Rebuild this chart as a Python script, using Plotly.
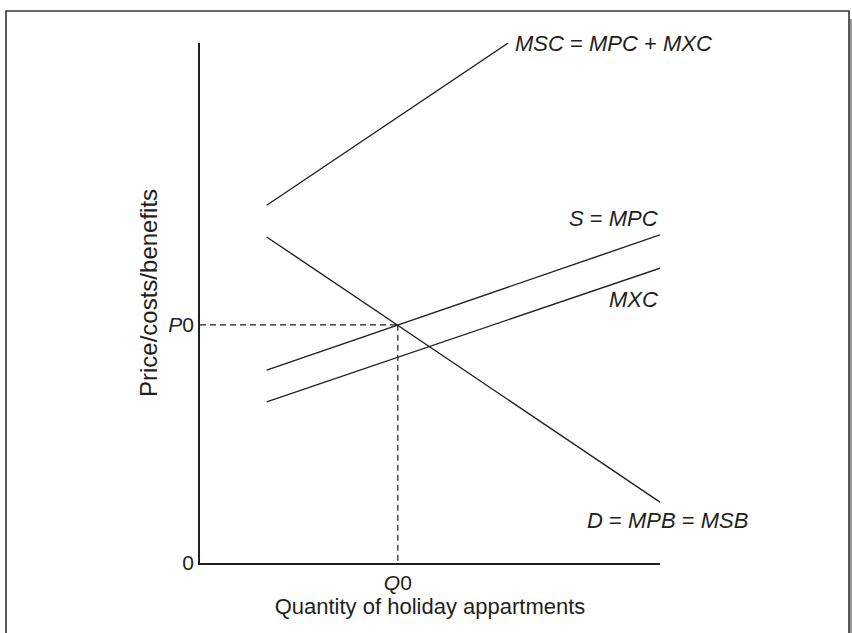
import plotly.graph_objects as go

# ---- data ----
curve_x = [1.45, 10.0]           # start / end of S, MXC and D curves
msc_x = [1.45, 6.7]
msc_y = [6.88, 10.0]             # MSC = MPC + MXC
s_mpc_y = [3.71, 6.31]           # S = MPC
mxc_y = [3.10, 5.67]             # MXC
demand_y = [6.27, 1.17]          # D = MPB = MSB
q0 = 4.3
p0 = 4.58

y_tick_vals = [0, p0]
y_tick_text = ["0", "<i>P</i>0"]
x_tick_vals = [q0]
x_tick_text = ["<i>Q</i>0"]

labels = [
    # text, x, y, xanchor
    ("<i>MSC</i> = <i>MPC</i> + <i>MXC</i>", 6.80, 10.0, "left"),
    ("<i>S</i> = <i>MPC</i>", 10.0, 6.63, "right"),
    ("<i>MXC</i>", 10.0, 5.07, "right"),
    ("<i>D</i> = <i>MPB</i> = <i>MSB</i>", 8.37, 0.81, "left"),
]

INK = "#231f20"
FONT = "Liberation Sans"

fig = go.Figure()
line = dict(color=INK, width=1.4)
fig.add_trace(go.Scatter(x=msc_x, y=msc_y, mode="lines", line=line, hoverinfo="skip"))
fig.add_trace(go.Scatter(x=curve_x, y=s_mpc_y, mode="lines", line=line, hoverinfo="skip"))
fig.add_trace(go.Scatter(x=curve_x, y=mxc_y, mode="lines", line=line, hoverinfo="skip"))
fig.add_trace(go.Scatter(x=curve_x, y=demand_y, mode="lines", line=line, hoverinfo="skip"))
dash = dict(color=INK, width=1.2, dash="6px,4px")
fig.add_trace(go.Scatter(x=[0, q0], y=[p0, p0], mode="lines", line=dash, hoverinfo="skip"))
fig.add_trace(go.Scatter(x=[q0, q0], y=[p0, 0], mode="lines", line=dash, hoverinfo="skip"))

for text, x, y, xa in labels:
    fig.add_annotation(x=x, y=y, text=text, showarrow=False, xanchor=xa,
                       yanchor="middle", font=dict(family=FONT, size=22, color=INK))

# y-axis title (rotated)
fig.add_annotation(xref="paper", yref="paper", x=(148 - 200) / 460, y=(563 - 293) / 520,
                   text="Price/costs/benefits", textangle=-90, showarrow=False,
                   xanchor="center", yanchor="middle",
                   font=dict(family=FONT, size=24, color=INK))

# frame around the figure and its shadow
L, R = (6 - 200) / 460, (849 - 200) / 460
T, B = (563 - 11) / 520, (563 - 645) / 520
fig.add_shape(type="rect", xref="paper", yref="paper", x0=(849.5 - 200) / 460, x1=(853 - 200) / 460,
              y0=B, y1=(563 - 19) / 520, line=dict(width=0), fillcolor="#9a9a9a", layer="below")
fig.add_shape(type="rect", xref="paper", yref="paper", x0=L, x1=R, y0=B, y1=T,
              line=dict(color="#333333", width=1.6), fillcolor="rgba(0,0,0,0)")

fig.update_layout(
    width=852, height=633,
    margin=dict(l=200, r=192, t=43, b=70),
    paper_bgcolor="white", plot_bgcolor="white",
    showlegend=False,
    font=dict(family=FONT, size=21, color=INK),
    xaxis=dict(range=[0, 10], showgrid=False, zeroline=False, showline=True,
               linecolor=INK, linewidth=1.5, tickvals=x_tick_vals, ticktext=x_tick_text,
               ticks="", ticklabelstandoff=0,
               title=dict(text="Quantity of holiday appartments", standoff=4,
                          font=dict(size=22))),
    yaxis=dict(range=[0, 10], showgrid=False, zeroline=False, showline=True,
               linecolor=INK, linewidth=1.5, tickvals=y_tick_vals, ticktext=y_tick_text,
               ticks="", ticklabelstandoff=0),
)

fig.write_html("out.html", post_script="document.body.style.margin='0';",
               config={"displayModeBar": False})
